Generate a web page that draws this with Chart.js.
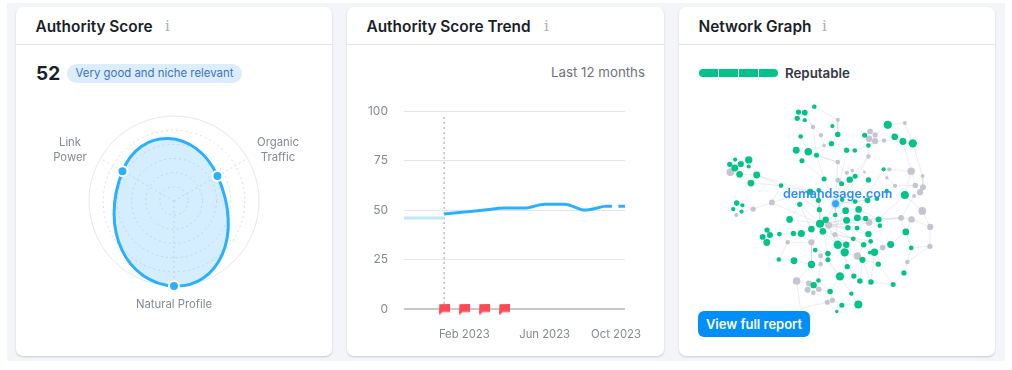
<!DOCTYPE html>
<html>
<head>
<meta charset="utf-8">
<script src="https://cdn.jsdelivr.net/npm/chart.js@4"></script>
<style>
html,body{margin:0;padding:0;background:#fff;width:1012px;height:370px;overflow:hidden;font-family:Inter,sans-serif}
#bg{position:absolute;left:7px;top:3px;width:998px;height:358px;background:#f4f5f9}
.card{position:absolute;top:7px;height:349px;background:#fff;border-radius:7px;box-shadow:0 1px 2px rgba(30,35,60,.2)}
.hd{position:absolute;left:0;right:0;top:37px;height:1px;background:#e0e1e9}
.t{position:absolute;white-space:nowrap;line-height:1}
.title{font-size:15.4px;font-weight:600;color:#191e28;top:12px;left:19.5px}
.i{font-family:"DejaVu Serif",serif;font-size:15px;color:#a9acb8;top:12px}
canvas{position:absolute}
</style>
</head>
<body>
<div id="bg"></div>
<div class="card" style="left:16px;width:316px"><div class="hd"></div>
  <div class="t title">Authority Score</div><div class="t i" style="left:149px">i</div>
  <div class="t" style="left:20px;top:57px;font-size:19px;font-weight:700;color:#191e28">52</div>
  <div class="t" style="left:51px;top:57px;width:175px;height:19px;line-height:19px;text-align:center;border-radius:10px;background:#dcedfd;color:#3f72bd;font-size:11.4px">Very good and niche relevant</div>
</div>
<div class="card" style="left:347px;width:317px"><div class="hd"></div>
  <div class="t title">Authority Score Trend</div><div class="t i" style="left:197px">i</div>
  <div class="t" style="right:19px;top:59px;font-size:13.3px;color:#6f727e">Last 12 months</div>
</div>
<div class="card" style="left:679px;width:316px"><div class="hd"></div>
  <div class="t title">Network Graph</div><div class="t i" style="left:143px">i</div>
  <div style="position:absolute;left:20px;top:62px;display:flex;gap:1px;height:8px;width:79px;border-radius:4px;overflow:hidden">
    <i style="flex:1;background:#00c38a"></i><i style="flex:1;background:#00c38a"></i><i style="flex:1;background:#00c38a"></i><i style="flex:1;background:#00c38a"></i></div>
  <div class="t" style="left:106px;top:60px;font-size:13.3px;font-weight:600;color:#333842">Reputable</div>
</div>
<canvas id="radar" style="left:16px;top:90px" width="316" height="222"></canvas>
<canvas id="trend" style="left:347px;top:88px" width="317" height="257"></canvas>
<canvas id="net" style="left:680px;top:90px" width="280" height="230"></canvas>
<div class="t" style="left:783px;top:188px;font-size:12.6px;font-weight:600;color:#2e8bff">demandsage.com</div>
<div class="t" style="left:698px;top:311px;width:112px;height:26px;line-height:26px;text-align:center;background:#008ff8;border-radius:6px;color:#fff;font-size:13px;font-weight:600">View full report</div>
<script>
// ---- Authority Score radar
const radarLabels = ['Organic Traffic', 'Natural Profile', 'Link Power'];
const radarLines = [['Organic', 'Traffic'], ['Natural Profile'], ['Link', 'Power']];
const radarValues = [59, 100, 70];
const radarTicks = 100 / 6;
// ---- Trend
const months = ['Nov 2022','Dec 2022','Jan 2023','Feb 2023','Mar 2023','Apr 2023','May 2023','Jun 2023','Jul 2023','Aug 2023','Sep 2023','Oct 2023'];
const earlyScores = [46, 46, 46];
const mainScores = [null, null, 48, 49, 50, 51, 51, 53, 53, 50, 52];
const lastScores = [52, 52];
const flagMonths = [2, 3, 4, 5];
const xTickLabels = ['Feb 2023', 'Jun 2023', 'Oct 2023'];
const yTickValues = [0, 25, 50, 75, 100];
// ---- Network nodes [x, y, r]
const greenNodes = [[402,301,2],[352,318,2.3],[372,320,2.5],[348,338,2.3],[372,344,1.8],[459,363,1.8],[476,390,2.4],[359,396,2],[456,419,2.3],[345,440,3],[383,445,3.3],[409,456,2.2],[363,474,2.2],[504,440,2.3],[530,441,2],[561,392,2.2],[573,425,2],[634,359,3.5],[656,397,2.9],[682,412,3],[713,418,3.6],
[152,470,1.8],[195,471,3.2],[135,485,2.3],[170,484,2.7],[151,497,3],[195,492,1.8],[166,517,2.9],[220,519,3],[202,545,3],[297,553,2],
[433,532,2.2],[514,534,2.8],[531,523,2.2],[488,547,2.2],[573,535,2.3],[621,501,1.8],[631,570,1.8],[688,583,3.5],
[389,573,2.8],[416,568,2],[415,600,2.3],[356,613,2.3],[157,609,2.4],[175,616,1.8],[146,628,1.9],[172,636,1.8],
[418,630,2.3],[501,633,2.9],[542,629,2.9],[468,647,2],[531,604,2.1],[570,600,2.5],[600,595,2],[490,598,2],
[324,661,2.9],[438,662,2.8],[420,675,3.5],[504,664,3],[538,656,3],[564,658,2.3],[605,661,2.6],[609,681,2],
[393,692,2.9],[429,699,2.9],[508,688,2.4],[537,689,2.1],[253,695,2.3],[262,711,2.6],[239,717,2.5],[292,708,2.1],[336,706,2.3],[361,706,3.1],[252,735,3],[573,708,2.8],[691,701,2.9],
[525,723,2.1],[580,731,2.1],[476,742,3.6],[503,742,2.8],[558,742,2.4],[643,741,3],[708,752,2],[445,770,2.4],[405,759,2],[498,766,3.6],[577,767,1.6],[592,766,3.2],
[290,789,2],[338,793,3],[445,790,2.2],[393,805,3.2],[554,790,2.7],[604,804,2.3],[506,812,2.3],[685,832,2.3],
[483,843,3.6],[527,842,2.3],[546,858,2.4],[581,861,2.4],[651,869,2.2],[415,856,2],[400,871,2.8],[452,891,2.4],[519,898,1.9],[489,935,2.2],[541,933,3.5],[473,955,1.5]];
const grayNodes = [[476,343,1.8],[398,366,2],[423,392,1.8],[433,425,1.5],[578,380,2.5],[594,391,2.3],[575,403,2.8],[594,411,2.7],[622,409,1.9],[688,353,1.7],[573,460,2],[476,478,2],[137,510,3.3],[505,512,1.8],[522,505,1.6],[560,510,1.2],[639,501,1.8],[708,507,3.2],[744,522,1.7],[477,536,2.2],[631,528,1.5],[657,554,1.8],[721,553,2.4],[745,558,2.6],[736,574,2.7],[717,586,1.7],[268,607,2.5],[209,628,2.3],[156,647,1.8],[743,634,3.4],[676,656,2.5],[709,661,2.8],[575,671,2.8],[447,680,3],[768,685,2.7],[467,709,2.2],[318,734,2],[393,734,2.7],[618,751,2.5],[767,747,2.3],[422,777,2.2],[538,778,3.2],[696,797,2],[422,804,2],[346,858,3.3],[385,866,2.6],[381,886,2.6],[416,884,2.4],[399,895,2],[459,919,2.3],[443,926,2.2]];
const blueNodes = [[469,611,3]];
const edgeList = [[402,301,476,343],[372,320,398,366],[352,318,398,366],[398,366,423,392],[398,366,409,456],[459,363,476,390],[476,343,476,390],[476,390,456,419],[359,396,383,445],[423,392,433,425],[433,425,383,445],[456,419,409,456],[345,440,383,445],[383,445,476,478],[409,456,476,478],[409,456,433,532],[363,474,433,532],[504,440,476,478],[530,441,504,440],[504,440,469,611],[573,425,530,441],[573,425,594,411],[594,411,622,409],[622,409,682,412],[634,359,594,391],[634,359,688,353],[688,353,713,418],[656,397,682,412],[682,412,713,418],[713,418,744,522],[682,412,708,507],[573,460,573,425],[573,460,514,534],[476,478,469,611],[476,478,514,534],[573,460,468,647],
[220,519,297,553],[202,545,297,553],[166,517,220,519],[297,553,389,573],[297,553,418,630],[220,519,389,573],[195,471,220,519],[297,553,268,607],[268,607,209,628],[268,607,420,675],[209,628,175,616],[209,628,172,636],[268,607,389,573],
[433,532,469,611],[514,534,469,611],[531,523,469,611],[488,547,469,611],[573,535,501,633],[621,501,639,501],[639,501,708,507],[621,501,542,629],[631,570,542,629],[688,583,605,661],[688,583,743,634],[708,507,721,553],[708,507,688,583],[744,522,745,558],[736,574,717,586],[717,586,676,656],[657,554,721,553],[657,554,631,528],[743,634,768,685],[709,661,768,685],[768,685,767,747],[767,747,696,797],[696,797,685,832],[685,832,651,869],[651,869,581,861],[691,701,708,752],[691,701,709,661],[676,656,691,701],[676,656,575,671],[709,661,676,656],[676,656,504,664],[605,661,676,656],[708,752,696,797],[708,752,767,747],[643,741,691,701],[643,741,618,751],[618,751,592,766],
[389,573,418,630],[416,568,420,675],[415,600,420,675],[356,613,420,675],[356,613,393,692],[418,630,420,675],[420,675,501,633],[420,675,504,664],[420,675,538,656],[447,680,542,629],[447,680,564,658],[447,680,605,661],[447,680,575,671],[447,680,508,688],[447,680,537,689],[447,680,573,708],[447,680,476,742],[447,680,558,742],[438,662,469,611],[429,699,467,709],[467,709,525,723],[467,709,580,731],[467,709,503,742],[467,709,538,778],[393,692,361,706],[361,706,336,706],[336,706,292,708],[292,708,262,711],[324,661,420,675],[324,661,356,613],[393,692,420,675],[393,734,429,699],[393,734,318,734],[393,734,405,759],[393,734,393,805],[405,759,445,770],[445,770,445,790],[422,777,445,770],[422,804,422,777],[422,804,415,856],[393,805,338,793],[338,793,290,789],[290,789,318,734],[476,742,445,770],[498,766,476,742],[498,766,506,812],[538,778,554,790],[538,778,498,766],[554,790,546,858],[554,790,581,861],[506,812,483,843],[506,812,527,842],[527,842,546,858],[483,843,452,891],[483,843,445,790],[452,891,459,919],[459,919,489,935],[489,935,541,933],[519,898,541,933],[519,898,483,843],[473,955,443,926],[443,926,452,891],[415,856,452,891],[416,884,452,891],[346,858,385,866],[346,858,358,945],[346,858,393,805],[385,866,400,871],[443,926,358,945],[558,742,604,804],[604,804,554,790],[580,731,577,767],[573,708,580,731],[558,742,538,778],[525,723,558,742],[504,664,564,658],[501,633,542,629],[542,629,605,661],[538,656,605,661],[538,656,609,681],[575,671,508,688],[573,708,537,689],[469,611,501,633],[469,611,468,647],[469,611,570,600],[469,611,600,595],[468,647,420,675],[468,647,504,664],[468,647,476,742],[418,630,476,742],[415,600,429,699],[429,699,445,770],[429,699,476,742],[476,742,527,842],[422,777,483,843],[581,861,592,766],[651,869,604,804]];

const edgePoints = [];
edgeList.forEach(e => { edgePoints.push({x:e[0],y:e[1]},{x:e[2],y:e[3]},{x:null,y:null}); });
const nodeScale = 1.15;
const toBubbles = a => a.map(n => ({x:n[0],y:n[1],r:n[2]*nodeScale}));

Chart.defaults.font.family = 'Inter, sans-serif';
Chart.defaults.animation = false;
Chart.defaults.plugins.legend.display = false;
Chart.defaults.plugins.tooltip.enabled = false;

// Radar labels
const radarLabelOffsets = [[104,-51],[0,104],[-104,-51]];
const radarLabelPlugin = {id:'radarLabels', afterDraw(c){
  const r = c.scales.r, x = c.ctx;
  x.save(); x.font='11.3px Inter, sans-serif'; x.fillStyle='#858995'; x.textAlign='center'; x.textBaseline='middle';
  radarLines.forEach((ls,i)=>{ ls.forEach((l,j)=>{
    x.fillText(l, r.xCenter+radarLabelOffsets[i][0], r.yCenter+radarLabelOffsets[i][1]+(j-(ls.length-1)/2)*15);
  });});
  x.restore();
}};
new Chart(document.getElementById('radar'),{
  type:'radar',
  data:{labels:radarLabels,datasets:[{data:radarValues,borderColor:'#2bb0ff',borderWidth:3,backgroundColor:'rgba(46,170,255,0.2)',
    tension:0.95,pointRadius:5,pointBackgroundColor:'#2bb0ff',pointBorderColor:'#fff',pointBorderWidth:2,clip:false,fill:true}]},
  options:{responsive:false,layout:{padding:26},
    elements:{line:{capBezierPoints:false}},
    scales:{r:{min:0,max:100,startAngle:60,
      ticks:{display:false,stepSize:radarTicks},
      pointLabels:{display:false},
      angleLines:{color:'#dcdee5',borderDash:[2,3],lineWidth:1},
      grid:{circular:true,lineWidth:1,color:c=>c.tick&&c.tick.value>=99.9?'#e6e7ee':'#dcdee5'},
      border:{dash:c=>c.tick&&c.tick.value>=99.9?[]:[2,3]}
    }}
  },
  plugins:[radarLabelPlugin]
});

// Trend
const flagImg = document.createElement('canvas'); flagImg.width=11; flagImg.height=11;
(function(){const g=flagImg.getContext('2d');g.fillStyle='#ff4953';g.beginPath();g.moveTo(0.5,0.5);g.lineTo(11,0);g.lineTo(11,8.5);g.lineTo(3.5,8.5);g.lineTo(2,10.5);g.lineTo(0,10.5);g.closePath();g.fill();})();
const xy = (arr,start) => arr.map((v,i)=>({x:start+i,y:v}));
const xTickPositions = [3, 7, 10.55];
new Chart(document.getElementById('trend'),{
  type:'line',
  data:{datasets:[
    {data:flagMonths.map(m=>({x:m,y:0})),showLine:false,pointStyle:flagImg,pointRadius:5,clip:false,order:0},
    {data:xy(mainScores,0),borderColor:'#2bb0ff',borderWidth:3,pointRadius:0,cubicInterpolationMode:'monotone',clip:false,order:1},
    {data:xy(lastScores,10),borderColor:'#2bb0ff',borderWidth:3,pointRadius:0,borderDash:[7,6.5],clip:false,order:1},
    {data:xy(earlyScores,0),borderColor:'#bfe6ff',borderWidth:3,pointRadius:0,clip:false,order:1},
    {data:[{x:2,y:0},{x:2,y:98.5}],borderColor:'#bcbfc8',borderWidth:1.5,borderDash:[2,3],pointRadius:0,order:2}
  ]},
  options:{responsive:false,layout:{padding:{top:0,right:39,left:0,bottom:0}},
    scales:{
      x:{type:'linear',min:0,max:months.length-1,
        afterBuildTicks:s=>{s.ticks=xTickPositions.map(v=>({value:v}));},
        afterFit:s=>{s.height=36;},
        grid:{display:false},border:{display:false},
        ticks:{autoSkip:false,maxRotation:0,padding:11,color:'#858995',font:{size:11.3},
          callback:(v,i)=>xTickLabels[i]}},
      y:{min:0,max:100,
        afterBuildTicks:s=>{s.ticks=yTickValues.map(v=>({value:v}));},
        afterFit:s=>{s.width=57;},
        border:{display:false},
        grid:{drawTicks:false,color:c=>c.tick.value===0?'#c6c8ce':'#e3e5ec',lineWidth:c=>c.tick.value===0?2:1},
        ticks:{padding:16,color:'#858995',font:{size:12}}}
    }
  }
});

// Network
new Chart(document.getElementById('net'),{
  type:'bubble',
  data:{datasets:[
    {data:toBubbles(greenNodes),backgroundColor:'#00c38a',borderWidth:0,order:1,clip:false},
    {data:toBubbles(grayNodes),backgroundColor:'#c4c5d0',borderWidth:0,order:1,clip:false},
    {data:toBubbles(blueNodes),backgroundColor:'#33a6ff',borderColor:'rgba(51,166,255,.25)',borderWidth:3,order:0,clip:false},
    {type:'line',data:edgePoints,borderColor:'rgba(185,190,205,.28)',borderWidth:1,pointRadius:0,spanGaps:false,order:2,clip:false}
  ]},
  options:{responsive:false,layout:{padding:0},
    scales:{x:{display:false,min:0,max:840},y:{display:false,reverse:true,min:270,max:960}}
  }
});
</script>
</body>
</html>
